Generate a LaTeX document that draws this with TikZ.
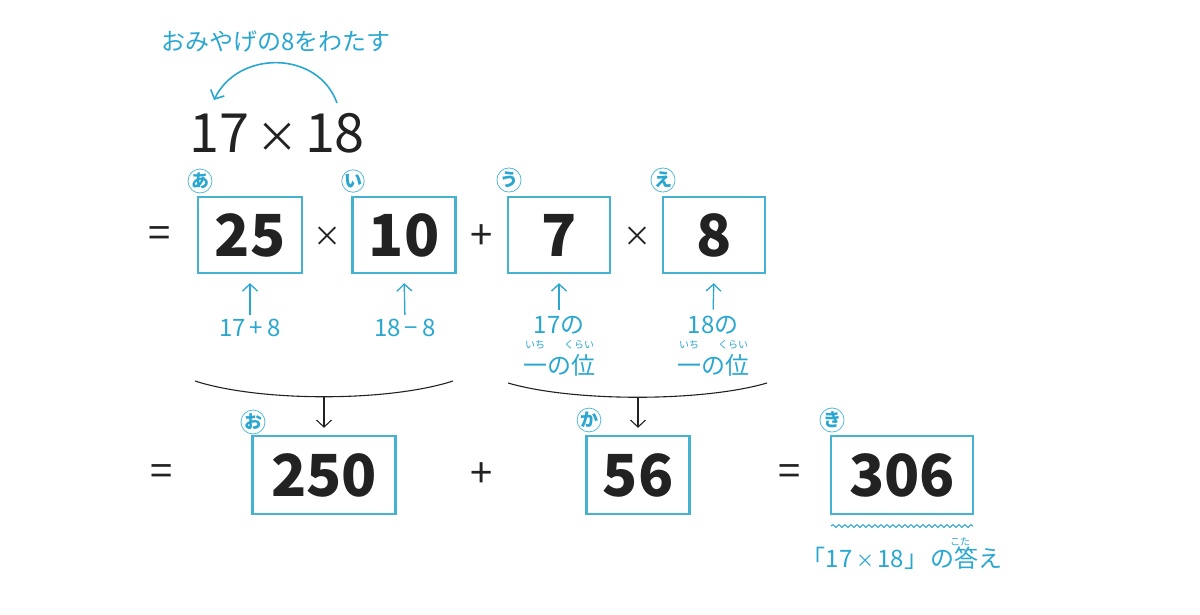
\documentclass[tikz,border=0pt]{standalone}
\usepackage{fontspec}
\setmainfont{Noto Sans CJK JP}
\usepackage{tikz}
\usetikzlibrary{arrows.meta,decorations.pathmorphing}

\begin{document}
\begin{tikzpicture}[x=1pt,y=-1pt]

		\definecolor{himmel}{HTML}{2AA7D0}
		\definecolor{rahmen}{HTML}{45B2D1}
		\definecolor{schwarz}{HTML}{222222}

		\tikzset{
			zahlbox/.style={draw=rahmen, line width=2.4pt, inner sep=0pt, minimum height=76pt, text=schwarz, font=\fontsize{58}{60}\selectfont\bfseries},
			marke/.style={circle, draw=himmel!80, line width=0.8pt, fill=white, inner sep=0pt, minimum size=20pt, text=himmel, font=\fontsize{18}{18}\selectfont\bfseries},
			op/.style={text=schwarz, inner sep=0pt, font=\fontsize{40}{40}\selectfont},
			kreuz/.style={text=schwarz, inner sep=0pt, font=\fontsize{28}{28}\selectfont},
			blau/.style={text=himmel, inner sep=0pt, font=\fontsize{24}{26}\selectfont},
			ruby/.style={text=himmel, inner sep=0pt, font=\fontsize{10}{10}\selectfont},
			hoch/.style={draw=himmel, line width=1.3pt, -{Straight Barb[length=7pt,width=15pt]}},
			runter/.style={draw=schwarz, line width=1.1pt, -{Straight Barb[length=7pt,width=15pt]}}
		}

		\useasboundingbox (0,0) rectangle (1200,614);

		% Aufgabe
		\node[blau] (titel) at (276,42) {おみやげの8をわたす};
		\node[text=schwarz, inner sep=0pt, font=\fontsize{54}{60}\selectfont] (aufgabe) at (277,133) {17\hspace{7pt}{\fontsize{42}{42}\selectfont ×}\hspace{7pt}18};
		\coordinate (bogenA) at (337,103);
		\coordinate (bogenE) at (214,100);
		\draw[hoch, line width=1.6pt] (bogenA) .. controls (318,50) and (238,50) .. (bogenE);

		% Zeile 1
		\node[op] (gl1) at (160,237) {=};
		\node[zahlbox, minimum width=104pt] (b1) at (250,235) {25};
		\node[kreuz] (mal1) at (327,237) {×};
		\node[zahlbox, minimum width=103pt] (b2) at (404,235) {10};
		\node[op] (plus1) at (482,237) {+};
		\node[zahlbox, minimum width=102pt] (b3) at (559,235) {7};
		\node[kreuz] (mal2) at (637,237) {×};
		\node[zahlbox, minimum width=102pt] (b4) at (714,235) {8};

		\node[marke] (m1) at (200,181) {あ};
		\node[marke] (m2) at (353,181) {い};
		\node[marke] (m3) at (509,180) {う};
		\node[marke] (m4) at (663,180) {え};

		% Hinweise
		\node[blau] (h1) at (250,328) {17\,+\,8};
		\node[blau] (h2) at (405,328) {18\,−\,8};
		\node[blau] (h3) at (559,325) {17の};
		\node[blau] (h3b) at (559,365) {一の位};
		\node[ruby] (r3a) at (535,345) {いち};
		\node[ruby] (r3b) at (579,345) {くらい};
		\node[blau] (h4) at (713,325) {18の};
		\node[blau] (h4b) at (713,365) {一の位};
		\node[ruby] (r4a) at (689,345) {いち};
		\node[ruby] (r4b) at (733,345) {くらい};

		\draw[hoch, shorten <=4pt, shorten >=9pt] (h1.north) -- (b1.south);
		\draw[hoch, shorten <=4pt, shorten >=9pt] (h2.north) -- (b2.south);
		\draw[hoch, shorten <=6pt, shorten >=9pt] (h3.north) -- (b3.south);
		\draw[hoch, shorten <=6pt, shorten >=9pt] (h4.north) -- (b4.south);

		% Klammern
		\coordinate (k1) at (324,397);
		\coordinate (k2) at (638,397);
		\draw[schwarz, line width=1.1pt] (195,381) .. controls (260,402) and (388,402) .. (453,381);
		\draw[schwarz, line width=1.1pt] (508,383) .. controls (573,402) and (702,402) .. (767,383);

		% Zeile 2
		\node[op] (gl2) at (162,475) {=};
		\node[zahlbox, minimum width=143pt, minimum height=78pt] (b5) at (324,475) {250};
		\node[op] (plus2) at (482,475) {+};
		\node[zahlbox, minimum width=103pt, minimum height=78pt] (b6) at (638,475) {56};
		\node[op] (gl3) at (790,475) {=};
		\node[zahlbox, minimum width=142pt, minimum height=78pt] (b7) at (902,475) {306};

		\node[marke] (m5) at (253,422) {お};
		\node[marke] (m6) at (589,420) {か};
		\node[marke] (m7) at (832,420) {き};

		\draw[runter, shorten >=7pt] (k1) -- (b5.north);
		\draw[runter, shorten >=7pt] (k2) -- (b6.north);

		% Antwort
		\coordinate (w1) at (831,526);
		\coordinate (w2) at (973,526);
		\draw[himmel, line width=1pt, decorate, decoration={snake, amplitude=1.4pt, segment length=6pt}] (w1) -- (w2);
		\node[blau] (antwort) at (902,558) {「17{\,\fontsize{18}{18}\selectfont ×\,}18」\hspace{2pt}の答え};
		\node[ruby] (r7) at (960,542) {こた};

\end{tikzpicture}
\end{document}
